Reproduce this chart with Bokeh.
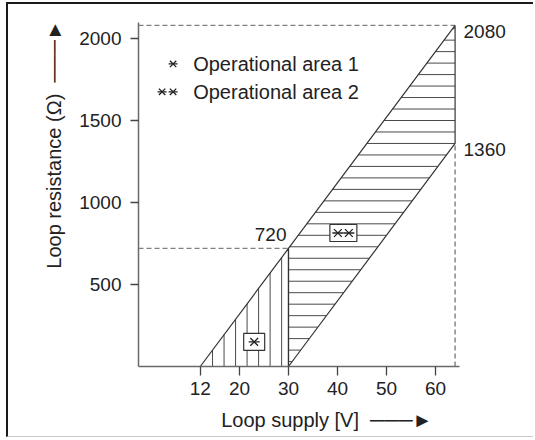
import numpy as np
from bokeh.plotting import figure
from bokeh.models import FixedTicker, Label, ColumnDataSource, Range1d, LinearAxis
from bokeh.embed import file_html
from bokeh.resources import INLINE

# ---------------- data ----------------
x_ticks = [12, 20, 30, 40, 50, 60]
y_ticks = [500, 1000, 1500, 2000]

area1_v = [12, 30, 30]
area1_r = [0, 0, 720]
area2_v = [30, 64, 64, 30]
area2_r = [0, 1360, 2080, 720]

corner_texts = ["2080", "1360", "720"]
corner_v = [64, 64, 30]
corner_r = [2080, 1360, 720]

legend_texts = ["Operational area 1", "Operational area 2"]
marker_v = [23.0, 41.2]
marker_r = [150, 814]

x_title = "Loop supply [V]"
y_title = "Loop resistance (\u03a9)"

# ---------------- style constants ----------------
FONT = "Liberation Sans, DejaVu Sans"
FS = "19px"
FS_T = "20px"
TXT = "#222222"
LINE = "#333333"
HATCH = "#4a4a4a"
DASH = "#808080"
PX_V = 4.9      # px per volt
PX_R = 0.164    # px per ohm
NB = "\u00a0"
LN = "\u2500"
HEAD = "\u25ba"

W, H = 527, 435
FL, FT, FW, FH = 130, 18, 321, 344
X0, X1 = -0.61, -0.61 + FW / PX_V
Y0, Y1 = 0, FH / PX_R

p = figure(width=W, height=H, x_range=Range1d(X0, X1), y_range=Range1d(Y0, Y1),
           output_backend="svg", toolbar_location=None,
           min_border_left=FL, min_border_right=W - FL - FW,
           min_border_top=FT, min_border_bottom=H - FT - FH,
           outline_line_color=None, background_fill_color="white",
           border_fill_color="white",
           styles={"margin-left": "6px", "margin-top": "2px",
                   "border-top": "2px solid #1a1a1a",
                   "border-left": "2px solid #1a1a1a",
                   "border-bottom": "1px solid #c8c8c8"})
p.grid.visible = False

for ax in (p.xaxis, p.yaxis):
    ax.axis_line_color = "#6a6a6a"
    ax.axis_line_width = 1.5
    ax.major_tick_line_color = "#444444"
    ax.major_tick_line_width = 1.3
    ax.major_tick_in = 0
    ax.minor_tick_line_color = None
    ax.major_label_text_font = FONT
    ax.major_label_text_font_size = FS
    ax.major_label_text_color = TXT
    ax.axis_label_text_font = FONT
    ax.axis_label_text_font_size = FS_T
    ax.axis_label_text_font_style = "normal"
    ax.axis_label_text_color = TXT
p.xaxis.ticker = FixedTicker(ticks=x_ticks)
p.yaxis.ticker = FixedTicker(ticks=y_ticks)
p.xaxis.major_tick_out = 9
p.yaxis.major_tick_out = 8
p.xaxis.major_label_standoff = 6
p.yaxis.major_label_standoff = 9
p.xaxis.axis_label = NB * 10 + x_title + NB * 2 + LN * 3 + HEAD
p.yaxis.axis_label = NB * 18 + y_title + NB * 2 + LN * 3 + HEAD
p.xaxis.axis_label_standoff = 11
p.yaxis.axis_label_standoff = 11

# right-hand corner values shown as an axis without line/ticks
shift = 35
p.extra_y_ranges = {"corner": Range1d(Y0 + shift, Y1 + shift)}
rax = LinearAxis(y_range_name="corner", ticker=FixedTicker(ticks=corner_r[:2]),
                 major_label_overrides={corner_r[0]: corner_texts[0],
                                        corner_r[1]: corner_texts[1]},
                 axis_line_color=None, major_tick_line_color=None,
                 minor_tick_line_color=None, major_tick_out=0, major_tick_in=0,
                 major_label_standoff=4, major_label_text_font=FONT,
                 major_label_text_font_size=FS, major_label_text_color=TXT)
p.add_layout(rax, "right")

# ---------------- dashed guide lines ----------------
v_max = max(area2_v)
r_top = max(area2_r)
p.segment(x0=[X0, X0, v_max], y0=[r_top, corner_r[2], 0],
          x1=[v_max, corner_v[2], v_max], y1=[r_top, corner_r[2], corner_r[1]],
          line_color=DASH, line_width=1.4, line_dash="5 3")

# ---------------- hatching ----------------
v_lines = np.arange(14.5, area1_v[1] - 0.5, 2.35)
slope = area1_r[2] / (area1_v[1] - area1_v[0])
p.segment(x0=v_lines, y0=np.zeros_like(v_lines), x1=v_lines,
          y1=slope * (v_lines - area1_v[0]), line_color=HATCH, line_width=1)

r_lines = np.arange(30, r_top, 70.0)
left = np.where(r_lines < area2_r[3], area2_v[0], area1_v[0] + r_lines / slope)
right = np.where(r_lines < area2_r[1], area2_v[0] + r_lines / slope, v_max)
p.segment(x0=left, y0=r_lines, x1=right, y1=r_lines, line_color=HATCH, line_width=1)

p.patch(area1_v, area1_r, fill_alpha=0, line_color=LINE, line_width=1.2)
p.patch(area2_v, area2_r, fill_alpha=0, line_color=LINE, line_width=1.2)

# ---------------- marker boxes ----------------
box_src = ColumnDataSource(dict(x=marker_v, y=marker_r, w=[21, 27], h=[17, 17]))
p.rect(x="x", y="y", width="w", height="h", width_units="screen",
       height_units="screen", source=box_src, fill_color="white",
       line_color=LINE, line_width=1.2)

off = 5.5 / PX_V
ast_x = [marker_v[0], marker_v[1] - off, marker_v[1] + off]
ast_y = [marker_r[0], marker_r[1], marker_r[1]]
leg_x = 6.45
leg_y = [1845, 1675]
ast_x += [leg_x, leg_x - 2 * off, leg_x]
ast_y += [leg_y[0], leg_y[1], leg_y[1]]
sizes = [11, 11, 11, 9, 9, 9]
src = ColumnDataSource(dict(x=ast_x, y=ast_y, s=sizes))
p.scatter(x="x", y="y", size="s", marker="x", source=src, line_color="#222", line_width=1.3)
p.scatter(x="x", y="y", size="s", marker="dash", source=src, line_color="#222", line_width=1.3)

# ---------------- texts inside the frame ----------------
def lab(x, y, text, size=FS, **kw):
    p.add_layout(Label(x=x, y=y, text=text, text_font=FONT, text_font_size=size,
                       text_color=TXT, **kw))

for t, yy in zip(legend_texts, leg_y):
    lab(10.55, yy, t, size=FS_T, text_baseline="middle", text_align="left")

lab(corner_v[2], corner_r[2], corner_texts[2], x_offset=-2, y_offset=13.5,
    text_baseline="middle", text_align="right")

open("out.html", "w").write(file_html(p, INLINE))
